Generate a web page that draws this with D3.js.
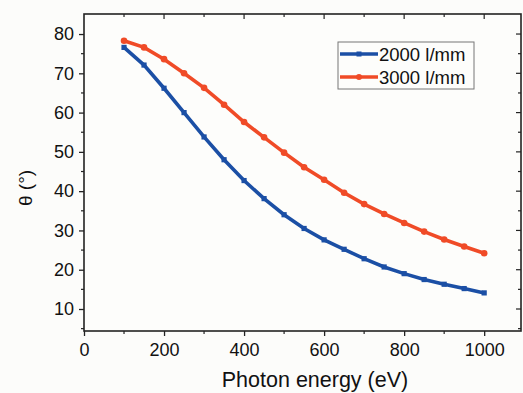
<!DOCTYPE html>
<html>
<head>
<meta charset="utf-8">
<script src="https://cdn.jsdelivr.net/npm/d3@7"></script>
<style>
  body { margin: 0; background: #fcfcfa; }
  svg { display: block; font-family: "Liberation Sans", Arial, sans-serif; }
</style>
</head>
<body>
<div id="chart"></div>
<script>
const energy = [100, 150, 200, 250, 300, 350, 400, 450, 500, 550, 600, 650, 700, 750, 800, 850, 900, 950, 1000];
const theta2000 = [76.6, 72.1, 66.2, 60.0, 53.8, 48.0, 42.7, 38.1, 34.0, 30.5, 27.6, 25.2, 22.8, 20.7, 19.0, 17.5, 16.3, 15.2, 14.1];
const theta3000 = [78.3, 76.6, 73.6, 70.0, 66.3, 62.0, 57.6, 53.7, 49.8, 46.1, 42.9, 39.6, 36.7, 34.2, 31.9, 29.7, 27.7, 25.9, 24.2];
const seriesNames = ["2000 l/mm", "3000 l/mm"];
const seriesColors = ["#1b4fa5", "#f04b27"];
const xTicks = [0, 200, 400, 600, 800, 1000];
const yTicks = [10, 20, 30, 40, 50, 60, 70, 80];

const width = 523, height = 393;
const margin = {top: 14, right: 2, bottom: 62, left: 84};

const svg = d3.select("#chart").append("svg")
    .attr("width", width)
    .attr("height", height);

const x = d3.scaleLinear().domain([0, 1092]).range([margin.left, width - margin.right]);
const y = d3.scaleLinear().domain([4.4, 85.1]).range([height - margin.bottom, margin.top]);

const x0 = margin.left, x1 = width - margin.right;
const y0 = height - margin.bottom, y1 = margin.top;

// frame
svg.append("rect")
    .attr("x", x0).attr("y", y1)
    .attr("width", x1 - x0).attr("height", y0 - y1)
    .attr("fill", "#fdfdfb").attr("stroke", "#222").attr("stroke-width", 1.6);

const minorX = d3.range(100, 1100, 100);
const minorY = d3.range(5, 85, 5);

// bottom axis
const gx = svg.append("g").attr("transform", `translate(0,${y0})`)
    .call(d3.axisBottom(x).tickValues(xTicks).tickFormat(d3.format("d")).tickSize(5).tickPadding(7));
gx.select(".domain").remove();
gx.selectAll("text").attr("font-size", 18).attr("fill", "#111");
gx.selectAll("line").attr("stroke", "#222").attr("stroke-width", 1.3);
svg.append("g").selectAll("line").data(minorX.filter(d => d % 200 !== 0)).enter().append("line")
    .attr("x1", d => x(d)).attr("x2", d => x(d))
    .attr("y1", y0).attr("y2", y0 + 3)
    .attr("stroke", "#222").attr("stroke-width", 1.2);

// top ticks (inward)
svg.append("g").selectAll("line").data(minorX).enter().append("line")
    .attr("x1", d => x(d)).attr("x2", d => x(d))
    .attr("y1", y1).attr("y2", d => y1 + (d % 200 === 0 ? 5 : 3))
    .attr("stroke", "#222").attr("stroke-width", 1.2);

// left axis
const gy = svg.append("g").attr("transform", `translate(${x0},0)`)
    .call(d3.axisLeft(y).tickValues(yTicks).tickSize(5).tickPadding(5));
gy.select(".domain").remove();
gy.selectAll("text").attr("font-size", 18).attr("fill", "#111");
gy.selectAll("line").attr("stroke", "#222").attr("stroke-width", 1.3);
svg.append("g").selectAll("line").data(minorY.filter(d => d % 10 !== 0)).enter().append("line")
    .attr("x1", x0).attr("x2", x0 - 3)
    .attr("y1", d => y(d)).attr("y2", d => y(d))
    .attr("stroke", "#222").attr("stroke-width", 1.2);

// right ticks (inward)
svg.append("g").selectAll("line").data(minorY).enter().append("line")
    .attr("x1", x1).attr("x2", d => x1 - (d % 10 === 0 ? 5 : 3))
    .attr("y1", d => y(d)).attr("y2", d => y(d))
    .attr("stroke", "#222").attr("stroke-width", 1.2);

// axis titles
svg.append("text")
    .attr("x", 315).attr("y", 387)
    .attr("text-anchor", "middle")
    .attr("font-size", 21.5).attr("fill", "#111")
    .text("Photon energy (eV)");
svg.append("text")
    .attr("transform", "translate(32,188) rotate(-90)")
    .attr("text-anchor", "middle")
    .attr("font-size", 19).attr("fill", "#111")
    .text("θ (°)");

// series
const series = [theta2000, theta3000].map((vals, i) => ({
    name: seriesNames[i],
    color: seriesColors[i],
    values: energy.map((e, j) => ({e: e, t: vals[j]}))
}));

const line = d3.line().x(d => x(d.e)).y(d => y(d.t));

series.forEach((s, i) => {
    svg.append("path")
        .datum(s.values)
        .attr("fill", "none")
        .attr("stroke", s.color)
        .attr("stroke-width", 3.6)
        .attr("d", line);
    const pts = svg.append("g").selectAll("g").data(s.values).enter();
    if (i === 0) {
        pts.append("rect")
            .attr("x", d => x(d.e) - 2.6).attr("y", d => y(d.t) - 2.6)
            .attr("width", 5.2).attr("height", 5.2)
            .attr("fill", s.color);
    } else {
        pts.append("circle")
            .attr("cx", d => x(d.e)).attr("cy", d => y(d.t))
            .attr("r", 3.3)
            .attr("fill", s.color);
    }
});

// legend
const lg = svg.append("g").attr("transform", "translate(338,42)");
lg.append("rect")
    .attr("width", 136).attr("height", 47)
    .attr("fill", "#fdfdfb").attr("stroke", "#777").attr("stroke-width", 1);
series.forEach((s, i) => {
    const yy = 12 + i * 23;
    lg.append("line")
        .attr("x1", 2).attr("x2", 40)
        .attr("y1", yy).attr("y2", yy)
        .attr("stroke", s.color).attr("stroke-width", 3.6);
    if (i === 0) {
        lg.append("rect").attr("x", 18.5).attr("y", yy - 2.5).attr("width", 5).attr("height", 5).attr("fill", s.color);
    } else {
        lg.append("circle").attr("cx", 21).attr("cy", yy).attr("r", 3).attr("fill", s.color);
    }
    lg.append("text")
        .attr("x", 41).attr("y", yy + 6.5)
        .attr("font-size", 18.5).attr("fill", "#111")
        .text(s.name);
});
</script>
</body>
</html>
